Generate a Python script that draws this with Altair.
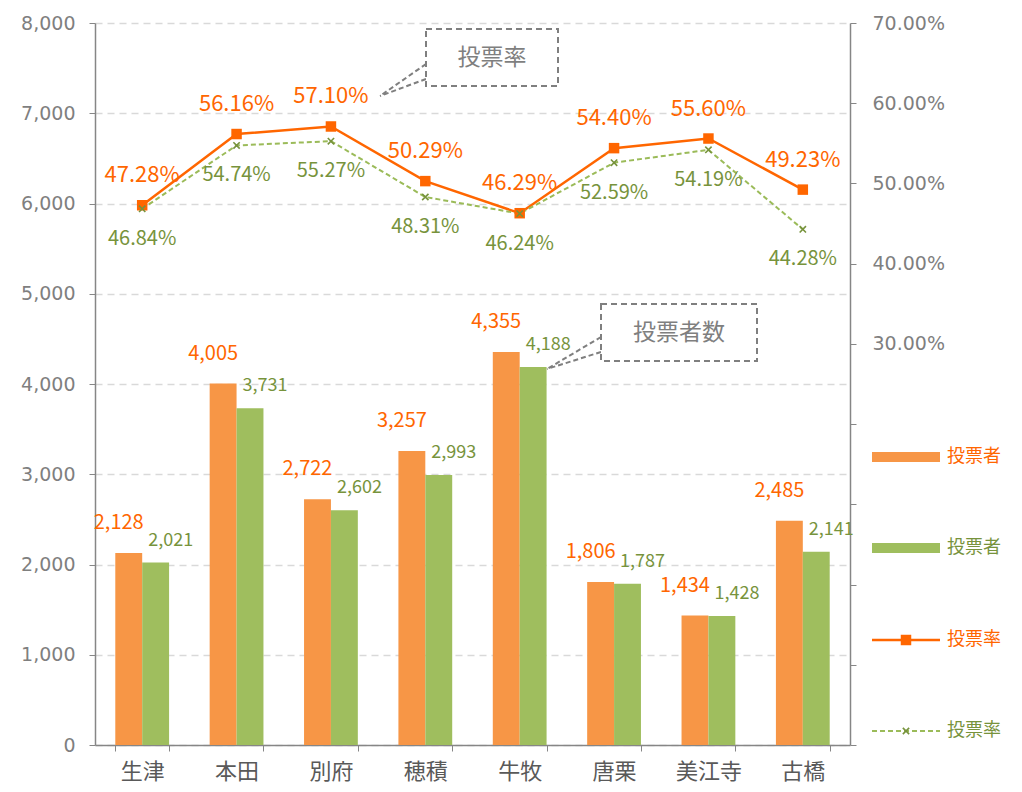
import altair as alt
import pandas as pd

# ---- data ----
categories = ["生津", "本田", "別府", "穂積", "牛牧", "唐栗", "美江寺", "古橋"]
voters_a = [2128, 4005, 2722, 3257, 4355, 1806, 1434, 2485]
voters_b = [2021, 3731, 2602, 2993, 4188, 1787, 1428, 2141]
rate_a = [47.28, 56.16, 57.10, 50.29, 46.29, 54.40, 55.60, 49.23]
rate_b = [46.84, 54.74, 55.27, 48.31, 46.24, 52.59, 54.19, 44.28]
left_ticks = [0, 1000, 2000, 3000, 4000, 5000, 6000, 7000, 8000]
right_ticks = [-0.2, -0.1, 0.0, 0.1, 0.2, 0.3, 0.4, 0.5, 0.6, 0.7]
legend_labels = ["投票者", "投票者", "投票率", "投票率"]
callout_labels = ["投票率", "投票者数"]

# ---- style ----
ORANGE_BAR = "#F79646"
GREEN_BAR = "#9FBE5E"
ORANGE = "#FF6600"
GREEN_TXT = "#77933C"
GREEN_LINE = "#9BBB59"
GRAY = "#7F7F7F"
AXIS = "#868686"
NUM_FONT = "DejaVu Sans"
JP_FONT = "Noto Sans CJK JP"
W, H = 755, 722

bars_df = pd.DataFrame({
    "cat": categories * 2,
    "series": ["A"] * len(categories) + ["B"] * len(categories),
    "value": voters_a + voters_b,
})
bar_a_df = bars_df[bars_df.series == "A"]
bar_b_df = bars_df[bars_df.series == "B"]
rate_a_df = pd.DataFrame({"cat": categories, "rate": [r / 100 for r in rate_a]})
rate_b_df = pd.DataFrame({"cat": categories, "rate": [r / 100 for r in rate_b]})
one = pd.DataFrame({"k": [0]})

x_enc = alt.X(
    "cat:N", sort=categories,
    scale=alt.Scale(paddingInner=0.43, paddingOuter=0.215),
    axis=alt.Axis(title=None, labelAngle=0, labelFont=JP_FONT, labelFontSize=22,
                  labelColor="#595959", tickBand="extent", tickSize=6,
                  tickColor=AXIS, domainColor=AXIS, domainWidth=1.5,
                  labelPadding=10, grid=False),
)
xoff = alt.XOffset("series:N", scale=alt.Scale(domain=["A", "B"]))
y_left = alt.Y(
    "value:Q", scale=alt.Scale(domain=[0, 8000], nice=False),
    axis=alt.Axis(title=None, values=left_ticks, format=",.0f", labelFont=NUM_FONT,
                  labelFontSize=19, labelColor=GRAY, labelPadding=14, tickSize=6,
                  tickColor=AXIS, domainColor=AXIS, domainWidth=1.5,
                  grid=True, gridDash=[7, 5], gridColor="#D9D9D9", gridWidth=1.5),
)
y_right = alt.Y(
    "rate:Q", scale=alt.Scale(domain=[-0.2, 0.7], nice=False, zero=False),
    axis=alt.Axis(title=None, orient="right", values=right_ticks,
                  labelExpr="datum.value >= 0.29 ? format(datum.value, '.2%') : ''",
                  labelFont=NUM_FONT, labelFontSize=19, labelColor=GRAY,
                  labelPadding=16, tickSize=6, tickColor=AXIS, domainColor=AXIS,
                  domainWidth=1.5, grid=False),
)

bars = alt.Chart(bars_df).mark_bar().encode(
    x=x_enc, xOffset=xoff, y=y_left,
    color=alt.Color("series:N", scale=alt.Scale(domain=["A", "B"], range=[ORANGE_BAR, GREEN_BAR]), legend=None),
)
txt_a = alt.Chart(bar_a_df).mark_text(font=JP_FONT, fontSize=20, color=ORANGE, dx=-10, dy=-30, baseline="middle").encode(
    x=x_enc, xOffset=xoff, y=y_left, text=alt.Text("value:Q", format=",.0f"))
txt_b = alt.Chart(bar_b_df).mark_text(font=JP_FONT, fontSize=18, color=GREEN_TXT, dx=15, dy=-22, baseline="middle").encode(
    x=x_enc, xOffset=xoff, y=y_left, text=alt.Text("value:Q", format=",.0f"))
left = alt.layer(bars, txt_a, txt_b)

line_a = alt.Chart(rate_a_df).mark_line(color=ORANGE, strokeWidth=2.5).encode(x=x_enc, y=y_right)
pts_a = alt.Chart(rate_a_df).mark_point(shape="square", filled=True, size=110, color=ORANGE, opacity=1).encode(x=x_enc, y=y_right)
line_b = alt.Chart(rate_b_df).mark_line(color=GREEN_LINE, strokeWidth=2, strokeDash=[5, 3]).encode(x=x_enc, y=y_right)
pts_b = alt.Chart(rate_b_df).mark_point(shape="M-1,-1L1,1M-1,1L1,-1", filled=False, size=40, strokeWidth=1.6,
                                        color=GREEN_TXT, opacity=1).encode(x=x_enc, y=y_right)
rtxt_a = alt.Chart(rate_a_df).mark_text(font=JP_FONT, fontSize=22, color=ORANGE, dy=-30, baseline="middle").encode(
    x=x_enc, y=y_right, text=alt.Text("rate:Q", format=".2%"))
rtxt_b = alt.Chart(rate_b_df).mark_text(font=JP_FONT, fontSize=20, color=GREEN_TXT, dy=30, baseline="middle").encode(
    x=x_enc, y=y_right, text=alt.Text("rate:Q", format=".2%"))
right = alt.layer(line_a, line_b, pts_a, pts_b, rtxt_a, rtxt_b)

# ---- legend (decoration) ----
base = alt.Chart(one)
leg = [
    base.mark_rect(color=ORANGE_BAR).encode(x=alt.value(777), x2=alt.value(845), y=alt.value(429), y2=alt.value(439)),
    base.mark_rect(color=GREEN_BAR).encode(x=alt.value(777), x2=alt.value(845), y=alt.value(520), y2=alt.value(530)),
    base.mark_rule(color=ORANGE, strokeWidth=2.5).encode(x=alt.value(777), x2=alt.value(845), y=alt.value(617)),
    base.mark_point(shape="square", filled=True, size=110, color=ORANGE, opacity=1).encode(x=alt.value(811), y=alt.value(617)),
    base.mark_rule(color=GREEN_LINE, strokeWidth=2, strokeDash=[5, 3]).encode(x=alt.value(777), x2=alt.value(845), y=alt.value(708)),
    base.mark_point(shape="M-1,-1L1,1M-1,1L1,-1", filled=False, size=40, strokeWidth=1.6, color=GREEN_TXT, opacity=1).encode(x=alt.value(811), y=alt.value(708)),
]
for lbl, yy, col in zip(legend_labels, [434, 525, 617, 708], [ORANGE, GREEN_TXT, ORANGE, GREEN_TXT]):
    leg.append(base.mark_text(text=lbl, font=JP_FONT, fontSize=18, color=col, align="left", baseline="middle")
               .encode(x=alt.value(852), y=alt.value(yy)))

# ---- callouts (decoration) ----
co = []
boxes = [(331, 463, 6, 63, 285, 73, [41, 56]), (506, 662, 281, 338, 452, 346, [314, 329])]
for lbl, (x1, x2, y1, y2, tx, ty, ly) in zip(callout_labels, boxes):
    for yy in ly:
        co.append(base.mark_rule(color=GRAY, strokeWidth=2, strokeDash=[5, 3]).encode(
            x=alt.value(x1), x2=alt.value(tx), y=alt.value(yy), y2=alt.value(ty)))
    co.append(base.mark_rect(fill="white", stroke=GRAY, strokeWidth=2, strokeDash=[6, 4]).encode(
        x=alt.value(x1), x2=alt.value(x2), y=alt.value(y1), y2=alt.value(y2)))
    co.append(base.mark_text(text=lbl, font=JP_FONT, fontSize=23, color=GRAY, align="center", baseline="middle").encode(
        x=alt.value((x1 + x2) / 2), y=alt.value((y1 + y2) / 2)))

chart = alt.layer(left, right, *leg, *co).resolve_scale(y="independent").properties(
    width=W, height=H,
    autosize=alt.AutoSizeParams(type="none"),
    padding={"left": 87, "top": 15, "right": 160, "bottom": 38},
    background="white",
).configure_view(stroke=None)

chart.save("out.html", embed_options={"renderer": "svg", "actions": False})
